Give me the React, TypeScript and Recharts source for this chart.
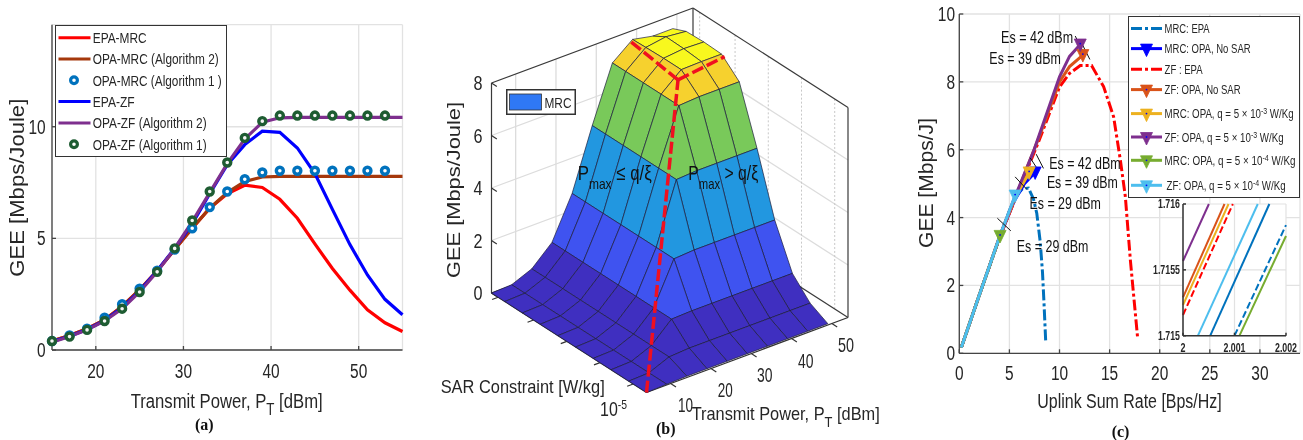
import React from 'react';
import {
  ComposedChart, ScatterChart, Line, Scatter, XAxis, YAxis, CartesianGrid, Legend, ReferenceLine, ReferenceDot,
} from 'recharts';

const NARROW = '"Liberation Sans",Arial,sans-serif';
const SANS = '"Liberation Sans",Arial,sans-serif';
const SERIF = '"Liberation Serif","Times New Roman",serif';
const INK = '#262626';
const FRAME = '#444444';
const GRID = '#e2e2e2';

/* ---------- panel (a) data ---------- */
const transmitPower = [15, 17, 19, 21, 23, 25, 27, 29, 31, 33, 35, 37, 39, 41, 43, 45, 47, 49, 51, 53, 55];
const epaMrc = [0.4, 0.65, 0.95, 1.35, 1.95, 2.7, 3.55, 4.5, 5.45, 6.35, 7.0, 7.38, 7.28, 6.75, 5.9, 4.75, 3.65, 2.68, 1.8, 1.22, 0.83];
const opaMrc2 = [0.4, 0.65, 0.95, 1.35, 1.95, 2.7, 3.55, 4.5, 5.45, 6.35, 7.05, 7.55, 7.75, 7.78, 7.78, 7.78, 7.78, 7.78, 7.78, 7.78, 7.78];
const opaMrc1 = [0.4, 0.65, 0.95, 1.45, 2.05, 2.75, 3.55, 4.5, 5.45, 6.4, 7.1, 7.65, 7.95, 8.03, 8.03, 8.03, 8.03, 8.03, 8.03, 8.03, null];
const epaZf = [0.38, 0.62, 0.92, 1.32, 1.9, 2.65, 3.55, 4.55, 5.65, 7.0, 8.3, 9.2, 9.8, 9.75, 9.05, 7.9, 6.3, 4.72, 3.36, 2.27, 1.58];
const opaZf2 = [0.35, 0.6, 0.9, 1.3, 1.85, 2.6, 3.5, 4.55, 5.75, 7.05, 8.35, 9.45, 10.2, 10.4, 10.42, 10.42, 10.42, 10.42, 10.42, 10.42, 10.42];
const opaZf1 = [0.4, 0.6, 0.9, 1.3, 1.85, 2.6, 3.5, 4.55, 5.8, 7.1, 8.4, 9.5, 10.25, 10.5, 10.5, 10.5, 10.5, 10.5, 10.5, 10.5, null];
const rowsA = transmitPower.map((p, i) => ({
  p, epaMrc: epaMrc[i], opaMrc2: opaMrc2[i], opaMrc1: opaMrc1[i], epaZf: epaZf[i], opaZf2: opaZf2[i], opaZf1: opaZf1[i],
}));
const legendA = [
  { name: 'EPA-MRC', color: '#ff0000', len: 54 },
  { name: 'OPA-MRC (Algorithm 2)', color: '#a5380c', len: 126 },
  { name: 'OPA-MRC (Algorithm 1 )', color: '#0072bd', ring: true, len: 129 },
  { name: 'EPA-ZF', color: '#0000ff', len: 42 },
  { name: 'OPA-ZF (Algorithm 2)', color: '#7e2f8e', len: 114 },
  { name: 'OPA-ZF (Algorithm 1)', color: '#1e5c32', ring: true, len: 114 },
];

/* ---------- panel (b) data ---------- */
const sarLog = [-5, -4.6, -4.2, -3.8, -3.4, -3, -2.6, -2.2, -1.8, -1.5];
const powerB = [4, 9, 14, 19, 24, 29, 34, 39, 44, 49];
const surfaceGee = [
  [0, 0.03, 0.05, 0.05, 0.05, 0.05, 0.05, 0.05, 0.05, 0.05],
  [0, 0.03, 0.35, 0.4, 0.4, 0.4, 0.4, 0.4, 0.4, 0.4],
  [0, 0.03, 0.35, 1.07, 1.1, 1.1, 1.1, 1.1, 1.1, 1.1],
  [0, 0.03, 0.35, 1.07, 2.65, 2.7, 2.7, 2.7, 2.7, 2.7],
  [0, 0.03, 0.35, 1.07, 2.65, 4.95, 5, 5, 5, 5],
  [0, 0.03, 0.35, 1.07, 2.65, 4.95, 7.05, 7.1, 7.1, 7.1],
  [0, 0.03, 0.35, 1.07, 2.65, 4.95, 7.05, 7.7, 7.72, 7.72],
  [0, 0.03, 0.35, 1.07, 2.65, 4.95, 7.05, 7.7, 7.78, 7.75],
  [0, 0.03, 0.35, 1.07, 2.65, 4.95, 7.05, 7.68, 7.8, 7.72],
  [0, 0.03, 0.35, 1.07, 2.65, 4.95, 7.05, 7.66, 7.5, 7.5],
];
const geeTicksB = [0, 2, 4, 6, 8];
const powerTicksB = [10, 20, 30, 40, 50];
const sarTicksB = [-4.7, -3.95, -3.2, -2.45, -1.65];
const ridgeMain = [[-5, 4, 0], [-2.8, 36, 7.7]];
const ridgeLeft = [[-2.8, 36, 7.7], [-1.5, 38, 7.7]];
const ridgeRight = [[-2.8, 36, 7.7], [-2.67, 49, 7.7]];

const project = (s: number, p: number, z: number) => {
  const u = (s + 5) / 3.5;
  const v = (p - 4) / 50;
  return { x: 646.5 - 155 * u + 201.5 * v, y: 392.5 - 99.5 * u - 75 * v - 26.25 * z };
};
const seg = (a: number[], b: number[]) => {
  const s = project(a[0], a[1], a[2]);
  const e = project(b[0], b[1], b[2]);
  return { x: s.x, y: s.y, x2: e.x, y2: e.y };
};
const S0 = -5, S1 = -1.5, P0 = 4, P1 = 54;
const wallGrid = [
  ...geeTicksB.slice(1, 4).flatMap((z) => [seg([S1, P0, z], [S1, P1, z]), seg([S1, P1, z], [S0, P1, z])]),
  ...powerTicksB.map((p) => seg([S1, p, 0], [S1, p, 8])),
];
const wallDots = sarTicksB.map((s) => seg([s, P1, 0], [s, P1, 8]));
const boxEdges = [
  seg([S1, P0, 0], [S1, P0, 8]), seg([S1, P0, 8], [S1, P1, 8]), seg([S1, P1, 8], [S0, P1, 8]),
  seg([S0, P1, 8], [S0, P1, 0]), seg([S1, P1, 0], [S1, P1, 8]), seg([S1, P1, 0], [S0, P1, 0]),
  seg([S1, P0, 0], [S1, P1, 0]),
];
const frontEdges = [
  seg([S0, P0, 0], [S0, P1, 0]), seg([S0, P0, 0], [S1, P0, 0]),
  ...powerTicksB.map((p) => seg([S0, p, 0], [S0 - 0.12, p, 0])),
  ...sarTicksB.map((s) => seg([s, P0, 0], [s, P0 - 1.5, 0])),
  ...geeTicksB.map((z) => seg([S1, P0, z], [S1 - 0.12, P0, z])),
];
const bandColor = (z: number) => {
  if (z < 1) return '#3f2fc0';
  if (z < 2) return '#3f53f0';
  if (z < 4.5) return '#2297e0';
  if (z < 7) return '#79c95a';
  if (z < 7.4) return '#f6d12e';
  return '#f8f81e';
};
const cells: any[] = [];
for (let i = 0; i < sarLog.length - 1; i++) {
  for (let k = 0; k < powerB.length - 1; k++) {
    const corners = [[i, k], [i + 1, k], [i + 1, k + 1], [i, k + 1]].map(([a, b]) =>
      project(sarLog[a], powerB[b], surfaceGee[a][b]));
    cells.push({
      order: i + k,
      corners,
      x: corners.reduce((t, c) => t + c.x, 0) / 4,
      y: corners.reduce((t, c) => t + c.y, 0) / 4,
      fill: bandColor(Math.min(surfaceGee[i][k], surfaceGee[i + 1][k], surfaceGee[i][k + 1], surfaceGee[i + 1][k + 1])),
    });
  }
}
cells.sort((a, b) => b.order - a.order);

/* ---------- panel (c) data ---------- */
const mrcEpa = [[0.2, 0.17], [1, 0.85], [2, 1.72], [3, 2.55], [4, 3.4], [5, 4.2], [5.7, 4.65], [6.3, 4.85], [6.9, 4.87], [7.4, 4.55], [7.73, 4.13], [8.07, 3.3], [8.3, 2.4], [8.45, 1.5], [8.63, 0.3]];
const mrcNoSar = [[0.2, 0.17], [2, 1.72], [4, 3.4], [5.5, 4.5], [6.5, 5.0], [7.57, 5.33]];
const zfEpa = [[0.2, 0.17], [2, 1.72], [4, 3.4], [6, 4.85], [8, 6.3], [10, 7.85], [11, 8.25], [12.07, 8.48], [13.2, 8.48], [14.4, 7.86], [15.4, 6.97], [16.07, 5.7], [16.57, 4.62], [17.07, 2.75], [17.8, 0.44]];
const zfNoSar = [[0.2, 0.17], [2, 1.72], [4, 3.42], [6, 4.9], [8, 6.4], [10, 8.0], [11, 8.45], [12.33, 8.79]];
const mrcQ3 = [[0.2, 0.17], [2, 1.72], [4, 3.42], [5.5, 4.55], [6.97, 5.33]];
const zfQ3 = [[0.2, 0.17], [2, 1.72], [4, 3.42], [5.4, 4.5], [7.4, 5.95], [10, 8.15], [11, 8.75], [12.07, 9.1]];
const mrcQ4 = [[0.2, 0.17], [2, 1.72], [4.07, 3.46]];
const zfQ4 = [[0.2, 0.17], [2, 1.72], [4, 3.42], [5.57, 4.65]];
const esLabels = [
  { x: 4.17, y: 9.15, len: 72, text: 'Es = 42 dBm' },
  { x: 3.0, y: 8.52, len: 71.5, text: 'Es = 39 dBm' },
  { x: 8.97, y: 5.43, len: 71.5, text: 'Es = 42 dBm' },
  { x: 8.74, y: 4.86, len: 71, text: 'Es = 39 dBm' },
  { x: 7.0, y: 4.24, len: 71.5, text: 'Es = 29 dBm' },
  { x: 5.74, y: 2.98, len: 71.5, text: 'Es = 29 dBm' },
];
const esMarks = [
  [[11.57, 9.35], [12.3, 8.92]], [[12.3, 9.09], [13.03, 8.66]], [[7.67, 5.87], [8.4, 5.45]],
  [[7.07, 5.76], [7.74, 5.46]], [[5.57, 5.2], [6.74, 4.83]], [[3.8, 3.98], [5.14, 3.61]],
];
const seriesC = [
  { name: 'MRC: EPA', pts: mrcEpa, color: '#0072bd', dash: true, rowLen: 45 },
  { name: 'MRC: OPA, No SAR', pts: mrcNoSar, color: '#0000ff', marker: true, rowLen: 86 },
  { name: 'ZF : EPA', pts: zfEpa, color: '#ff0000', dash: true, rowLen: 38 },
  { name: 'ZF: OPA, No SAR', pts: zfNoSar, color: '#d95319', marker: true, rowLen: 76 },
  { name: 'MRC: OPA, q = 5 \u00d7 10', sup: '-3', tail: ' W/Kg', pts: mrcQ3, color: '#edb120', marker: true, rowLen: 129 },
  { name: 'ZF: OPA, q = 5 \u00d7 10', sup: '-3', tail: ' W/Kg', pts: zfQ3, color: '#7e2f8e', marker: true, rowLen: 119 },
  { name: 'MRC: OPA,  q = 5 \u00d7 10', sup: '-4', tail: ' W/Kg', pts: mrcQ4, color: '#77ac30', marker: true, rowLen: 131 },
  { name: 'ZF: OPA, q = 5 \u00d7 10', sup: '-4', tail: ' W/Kg', pts: zfQ4, color: '#4dbeee', marker: true, rowLen: 119, shift: 2 },
];
const rowYC = [12.6, 32.6, 53.3, 73.6, 97.6, 121, 144.3, 169.3];

/* inset */
const insetSeries = [
  { pts: [[2, 1.715567], [2.000503, 1.716]], color: '#7e2f8e' },
  { pts: [[2, 1.715291], [2.000806, 1.716]], color: '#d95319' },
  { pts: [[2, 1.715233], [2.000884, 1.716]], color: '#edb120' },
  { pts: [[2, 1.715157], [2.000968, 1.716]], color: '#ff0000', dash: '7 3' },
  { pts: [[2.00029, 1.715], [2.001452, 1.716]], color: '#4dbeee' },
  { pts: [[2.000529, 1.715], [2.001677, 1.716]], color: '#0072bd' },
  { pts: [[2.001, 1.715], [2.002, 1.71584]], color: '#0072bd', dash: '7 3' },
  { pts: [[2.001097, 1.715], [2.002, 1.715757]], color: '#77ac30' },
];

/* ---------- helpers ---------- */
const toXY = (pts: number[][]) => pts.map(([x, y]) => ({ x, y }));
const Fit = ({ x, y, len, size = 19, fam = NARROW, rot, weight, fill = INK, anchor, children }: any) => (
  <text
    x={x} y={y} fontSize={size} fontFamily={fam} fill={fill} fontWeight={weight} textAnchor={anchor}
    textLength={len} lengthAdjust={len ? 'spacingAndGlyphs' : undefined}
    transform={rot ? `rotate(${rot} ${x} ${y})` : undefined}
  >{children}</text>
);
const blank = () => '';
const XTick = (baseline: number) => (p: any) => {
  const s = String(p.payload.value);
  return <Fit x={p.x} y={baseline} size={20} len={s.length * 8.6} anchor="middle">{s}</Fit>;
};
const YTick = (right: number) => (p: any) => {
  const s = String(p.payload.value);
  return <Fit x={right} y={p.y + 7} size={20} len={s.length * 8.6} anchor="end">{s}</Fit>;
};
const InsetX = (p: any) => {
  const s = String(+p.payload.value.toFixed(3));
  return <Fit x={p.x} y={156.7} size={12} weight={700} len={s.length > 1 ? 22 : 5} anchor="middle">{s}</Fit>;
};
const InsetY = (p: any) => {
  const s = String(+p.payload.value.toFixed(4));
  return <Fit x={40} y={p.y + 4} size={12} weight={700} len={s.length > 5 ? 27 : 22} anchor="end">{s}</Fit>;
};

const LegendA = () => (
  <svg width={172} height={132} style={{ display: 'block' }}>
    <rect x={0.5} y={0.5} width={171} height={131} fill="#fff" stroke="#333" strokeWidth={1} />
    {legendA.map((it, i) => {
      const y = 12.7 + i * 21.3;
      return (
        <g key={it.name}>
          {it.ring
            ? <circle cx={19} cy={y} r={3.4} fill="#fff" stroke={it.color} strokeWidth={3.2} />
            : <line x1={3.5} x2={35.5} y1={y} y2={y} stroke={it.color} strokeWidth={3} />}
          <Fit x={37.7} y={y + 5.4} size={15} len={it.len}>{it.name}</Fit>
        </g>
      );
    })}
  </svg>
);

const Triangle = ({ cx, cy, color }: any) => (
  <g>
    <polygon points={`${cx - 6},${cy - 5.5} ${cx + 6},${cy - 5.5} ${cx},${cy + 7}`} fill={color} stroke={color} strokeWidth={0.8} />
    <circle cx={cx} cy={cy - 1} r={0.9} fill="#0000ff" />
  </g>
);

const LegendC = () => (
  <svg width={172} height={182} style={{ display: 'block' }}>
    <rect x={0.5} y={0.5} width={171} height={181} fill="#fff" stroke="#333" strokeWidth={1} />
    {seriesC.map((it: any, i) => {
      const y = rowYC[i];
      return (
        <g key={i}>
          <line x1={3} x2={34} y1={y} y2={y} stroke={it.color} strokeWidth={3} strokeDasharray={it.dash ? '11 3 3 3' : undefined} />
          {it.marker && <Triangle cx={18.5} cy={y + 1} color={it.color} />}
          <Fit x={36.6 + (it.shift || 0)} y={y + 4.5} size={12.5} len={it.rowLen}>
            {it.name}
            {it.sup && <tspan dy={-4} fontSize={9}>{it.sup}</tspan>}
            {it.tail && <tspan dy={4}>{it.tail}</tspan>}
          </Fit>
        </g>
      );
    })}
  </svg>
);

const LegendB = () => (
  <svg width={70} height={26} style={{ display: 'block' }}>
    <rect x={0.75} y={0.75} width={68.5} height={24.5} fill="#fff" stroke="#333" strokeWidth={1.5} />
    <rect x={3.5} y={5} width={32} height={16} fill="#2f78f5" stroke="#333" strokeWidth={0.8} />
    <Fit x={38.5} y={18.5} size={15} len={27}>MRC</Fit>
  </svg>
);

const SegShape = (stroke: string, width: number, dash?: string) => (props: any) => {
  const { cx, cy, payload } = props;
  return (
    <line
      x1={cx} y1={cy} x2={cx + payload.x2 - payload.x} y2={cy + payload.y2 - payload.y}
      stroke={stroke} strokeWidth={width} strokeDasharray={dash}
    />
  );
};
const CellShape = (props: any) => {
  const { cx, cy, payload } = props;
  const pts = payload.corners.map((c: any) => `${cx + c.x - payload.x},${cy + c.y - payload.y}`).join(' ');
  return <polygon points={pts} fill={payload.fill} stroke="#1c1c3c" strokeWidth={0.7} strokeLinejoin="round" />;
};

const absolute = (left: number, top: number): React.CSSProperties => ({ position: 'absolute', left, top });
const legendProps: any = { layout: 'vertical', align: 'center', verticalAlign: 'middle' };

export default function App() {
  return (
    <div style={{ position: 'absolute', left: 0, top: 0, width: 1303, height: 440, overflow: 'hidden', background: '#fff', filter: 'blur(0.35px)' }}>
      {/* panel a */}
      <div style={absolute(0, 0)}>
        <ComposedChart width={410} height={440} data={rowsA} margin={{ top: 24.7, right: 7.5, bottom: 40, left: 0 }}>
          <CartesianGrid stroke={GRID} strokeWidth={1.3} />
          <XAxis
            dataKey="p" type="number" domain={[15, 55]} ticks={[20, 30, 40, 50]} height={50}
            stroke={FRAME} strokeWidth={1.3} tick={XTick(378)} tickSize={-4} tickMargin={18}
            label={{
              content: () => (
                <Fit x={130.7} y={408} len={192} size={20}>
                  Transmit Power, P<tspan dy={7} fontSize={16}>T</tspan><tspan dy={-7}> [dBm]</tspan>
                </Fit>
              ),
            }}
          />
          <YAxis
            type="number" domain={[0, 14.57]} ticks={[0, 5, 10]} width={52}
            stroke={FRAME} strokeWidth={1.3} tick={YTick(45.7)} tickSize={-4} tickMargin={10}
            label={{ content: () => <Fit x={24.3} y={276.7} len={178} size={20} fam={SANS} rot={-90}>GEE [Mbps/Joule]</Fit> }}
          />
          <XAxis xAxisId="top" orientation="top" type="number" domain={[15, 55]} ticks={[20, 30, 40, 50]} height={0} stroke={FRAME} strokeWidth={1.3} tickFormatter={blank} tickSize={-4} />
          <YAxis yAxisId="right" orientation="right" type="number" domain={[0, 14.57]} ticks={[0, 5, 10]} width={0} stroke={FRAME} strokeWidth={1.3} tickFormatter={blank} tickSize={-4} />
          <Line dataKey="epaMrc" stroke="#ff0000" strokeWidth={3.2} dot={false} isAnimationActive={false} />
          <Line dataKey="opaMrc2" stroke="#a5380c" strokeWidth={3.2} dot={false} isAnimationActive={false} />
          <Line dataKey="opaMrc1" stroke="none" dot={{ r: 3.5, stroke: '#0072bd', strokeWidth: 3.4, fill: '#fff' }} isAnimationActive={false} />
          <Line dataKey="epaZf" stroke="#0000ff" strokeWidth={3.2} dot={false} isAnimationActive={false} />
          <Line dataKey="opaZf2" stroke="#7e2f8e" strokeWidth={3.2} dot={false} isAnimationActive={false} />
          <Line dataKey="opaZf1" stroke="none" dot={{ r: 3.5, stroke: '#1e5c32', strokeWidth: 3.4, fill: '#f4f4f4' }} isAnimationActive={false} />
          <Legend {...legendProps} content={() => <LegendA />} wrapperStyle={{ position: 'absolute', left: 55, top: 25, width: 172, height: 132 }} />
        </ComposedChart>
      </div>

      {/* panel b */}
      <div style={absolute(420, 0)}>
        <ScatterChart width={460} height={440} margin={{ top: 0, right: 0, bottom: 0, left: 0 }}>
          <XAxis dataKey="x" type="number" domain={[420, 880]} hide />
          <YAxis dataKey="y" type="number" domain={[0, 440]} reversed hide />
          <Scatter data={wallGrid} shape={SegShape('#dcdcdc', 1.3)} isAnimationActive={false} />
          <Scatter data={wallDots} shape={SegShape('#c8c8c8', 1, '2 2')} isAnimationActive={false} />
          <Scatter data={boxEdges} shape={SegShape('#3a3a3a', 1.2)} isAnimationActive={false} />
          <Scatter data={frontEdges} shape={SegShape('#333333', 1.2)} isAnimationActive={false} />
          <Scatter data={cells} shape={CellShape} isAnimationActive={false} />
          <Scatter data={[seg(ridgeMain[0], ridgeMain[1]), seg(ridgeLeft[0], ridgeLeft[1]), seg(ridgeRight[0], ridgeRight[1])]} shape={SegShape('#f01020', 3.5, '12 4')} isAnimationActive={false} />
          <Legend {...legendProps} content={() => <LegendB />} wrapperStyle={{ position: 'absolute', left: 86, top: 89, width: 70, height: 26 }} />
        </ScatterChart>
      </div>

      {/* panel c */}
      <div style={absolute(0, 0)}>
        <ComposedChart width={1303} height={440} margin={{ top: 14, right: 3, bottom: 40, left: 919.3 }}>
          <CartesianGrid stroke={GRID} strokeWidth={1.3} />
          <XAxis
            dataKey="x" type="number" domain={[0, 34]} ticks={[0, 5, 10, 15, 20, 25, 30]} height={46.7}
            stroke={FRAME} strokeWidth={1.3} tick={XTick(380)} tickSize={-4} tickMargin={18}
            label={{ content: () => <Fit x={1037.3} y={408} len={184.4} size={20}>Uplink Sum Rate [Bps/Hz]</Fit> }}
          />
          <YAxis
            dataKey="y" type="number" domain={[0, 10]} ticks={[0, 2, 4, 6, 8, 10]} width={40}
            stroke={FRAME} strokeWidth={1.3} tick={YTick(955)} tickSize={-4} tickMargin={8}
            label={{ content: () => <Fit x={933.3} y={248} len={130} size={20} fam={SANS} rot={-90}>GEE [Mbps/J]</Fit> }}
          />
          <XAxis xAxisId="top" orientation="top" type="number" domain={[0, 34]} ticks={[0, 5, 10, 15, 20, 25, 30]} height={0} stroke={FRAME} strokeWidth={1.3} tickFormatter={blank} tickSize={-4} />
          <YAxis yAxisId="right" orientation="right" type="number" domain={[0, 10]} ticks={[0, 2, 4, 6, 8, 10]} width={0} stroke={FRAME} strokeWidth={1.3} tickFormatter={blank} tickSize={-4} />
          {seriesC.map((s: any, i) => {
            const last = s.pts.length - 1;
            return (
              <Line
                key={i} data={toXY(s.pts)} dataKey="y" stroke={s.color} strokeWidth={3}
                strokeDasharray={s.dash ? '11 3 3 3' : undefined} isAnimationActive={false}
                dot={s.marker
                  ? (p: any) => (p.index === last ? <Triangle key={p.index} cx={p.cx} cy={p.cy} color={s.color} /> : <g key={p.index} />)
                  : false}
              />
            );
          })}
          {esMarks.map((m, i) => (
            <ReferenceLine key={i} segment={[{ x: m[0][0], y: m[0][1] }, { x: m[1][0], y: m[1][1] }]} stroke="#111" strokeWidth={1} ifOverflow="visible" />
          ))}
          {esLabels.map((l, i) => (
            <ReferenceDot
              key={i} x={l.x} y={l.y} r={0} fill="none" stroke="none" ifOverflow="visible"
              label={{ content: (p: any) => <Fit x={p.viewBox.x} y={p.viewBox.y} len={l.len} size={16} fill="#111">{l.text}</Fit> }}
            />
          ))}
          <Legend {...legendProps} content={() => <LegendC />} wrapperStyle={{ position: 'absolute', left: 1127.5, top: 15.5, width: 172, height: 182 }} />
        </ComposedChart>
      </div>

      {/* inset of panel c */}
      <div style={absolute(1140, 195)}>
        <ComposedChart width={160} height={165} margin={{ top: 9, right: 14, bottom: 0, left: 0 }}>
          <CartesianGrid stroke={GRID} strokeWidth={1.2} fill="#fff" />
          <XAxis
            dataKey="x" type="number" domain={[2, 2.002]} ticks={[2, 2.001, 2.002]} height={24.3}
            stroke="#333" strokeWidth={1.5} tick={InsetX} tickSize={-3} tickMargin={8} interval={0}
          />
          <YAxis
            dataKey="y" type="number" domain={[1.715, 1.716]} ticks={[1.715, 1.7155, 1.716]} width={43}
            stroke="#333" strokeWidth={1.5} tick={InsetY} tickSize={-3} tickMargin={6} interval={0}
          />
          <XAxis xAxisId="top" orientation="top" type="number" domain={[2, 2.002]} ticks={[2, 2.001, 2.002]} height={0} stroke="#333" strokeWidth={1.5} tickFormatter={blank} tickSize={-3} />
          <YAxis yAxisId="right" orientation="right" type="number" domain={[1.715, 1.716]} ticks={[1.715, 1.7155, 1.716]} width={0} stroke="#333" strokeWidth={1.5} tickFormatter={blank} tickSize={-3} />
          {insetSeries.map((s, i) => (
            <Line key={i} data={toXY(s.pts)} dataKey="y" stroke={s.color} strokeWidth={2} strokeDasharray={s.dash} dot={false} isAnimationActive={false} />
          ))}
        </ComposedChart>
      </div>

      {/* text of the 3D axes and the captions */}
      <svg width={1303} height={440} style={{ position: 'absolute', left: 0, top: 0, pointerEvents: 'none' }}>
        {geeTicksB.map((z) => {
          const p = project(S1, P0, z);
          return <Fit key={z} x={p.x - 18} y={p.y + 7} size={20} len={9}>{z}</Fit>;
        })}
        <Fit x={460} y={278} len={176} size={19} fam={SANS} rot={-90}>GEE [Mbps/Joule]</Fit>
        <Fit x={440.7} y={393} len={164} size={19}>SAR Constraint [W/kg]</Fit>
        <Fit x={600} y={416} len={27} size={20}>10<tspan dy={-7} fontSize={13}>-5</tspan></Fit>
        <Fit x={678} y={412} size={21} len={15}>10</Fit>
        <Fit x={717.7} y={396.7} size={21} len={15}>20</Fit>
        <Fit x={757} y={381.7} size={21} len={15.5}>30</Fit>
        <Fit x={798} y={367.7} size={21} len={15.5}>40</Fit>
        <Fit x={838} y={351.7} size={21} len={16}>50</Fit>
        <Fit x={691.7} y={420} len={188} size={19}>Transmit Power, P<tspan dy={7} fontSize={15}>T</tspan><tspan dy={-7}> [dBm]</tspan></Fit>
        <Fit x={577.7} y={180} len={74} size={21} fill="#111">P<tspan dy={9} fontSize={15}>max</tspan><tspan dy={-9}> {'\u2264'} q/{'\u03be'}</tspan></Fit>
        <Fit x={688.3} y={180} len={70} size={21} fill="#111">P<tspan dy={9} fontSize={15}>max</tspan><tspan dy={-9}> &gt; q/{'\u03be'}</tspan></Fit>
        <Fit x={195} y={430} size={16} fam={SERIF} weight={700} fill="#111">(a)</Fit>
        <Fit x={656} y={434} size={16} fam={SERIF} weight={700} fill="#111">(b)</Fit>
        <Fit x={1111.7} y={436.7} size={16} fam={SERIF} weight={700} fill="#111">(c)</Fit>
      </svg>
    </div>
  );
}
